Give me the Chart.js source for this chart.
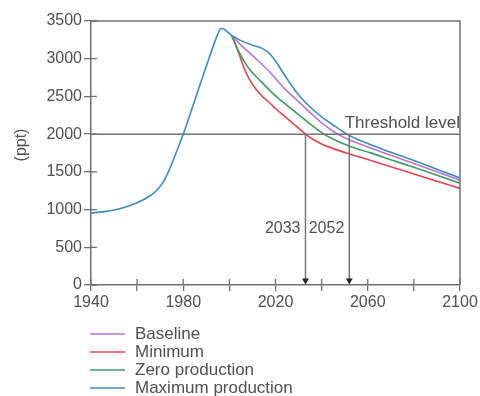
<!DOCTYPE html>
<html>
<head>
<meta charset="utf-8">
<script src="https://cdn.jsdelivr.net/npm/chart.js@4/dist/chart.umd.min.js"></script>
<style>
  html, body { margin: 0; padding: 0; background: #fff; }
  #wrap { width: 480px; height: 396px; position: relative; }
</style>
</head>
<body>
<div id="wrap"><canvas id="c"></canvas></div>
<script>
// Historical concentration (shared by all scenarios)
const historyYears  = [1940, 1945, 1950, 1955, 1960, 1965, 1968, 1971, 1974, 1977, 1980, 1985, 1990, 1994, 1996, 1997, 1999, 2001];
const historyValues = [955, 970, 995, 1035, 1090, 1170, 1240, 1350, 1530, 1760, 2000, 2450, 2900, 3250, 3390, 3400, 3360, 3310];

// Scenario projections
const baselineYears  = [2001, 2005, 2011, 2017, 2024, 2029, 2033, 2040, 2047, 2052, 2061, 2070, 2080, 2090, 2100];
const baselineValues = [3310, 3180, 3015, 2840, 2600, 2460, 2345, 2150, 2000, 1925, 1820, 1720, 1610, 1500, 1390];

const minimumYears  = [2001, 2004, 2007, 2010, 2014, 2018, 2020, 2025, 2030, 2033, 2036, 2040, 2045, 2050, 2061, 2070, 2080, 2090, 2100];
const minimumValues = [3310, 3080, 2830, 2660, 2510, 2400, 2340, 2210, 2080, 2000, 1935, 1870, 1808, 1758, 1655, 1568, 1472, 1376, 1280];

const zeroYears  = [2001, 2004, 2008, 2014, 2021, 2028, 2034, 2041, 2046, 2050, 2055, 2061, 2070, 2080, 2090, 2100];
const zeroValues = [3310, 3100, 2890, 2690, 2480, 2310, 2160, 2000, 1920, 1865, 1810, 1755, 1660, 1560, 1455, 1350];

const maximumYears  = [2001, 2005, 2010, 2014, 2017, 2020, 2024, 2029, 2034, 2040, 2046, 2051, 2056, 2061, 2070, 2080, 2090, 2100];
const maximumValues = [3310, 3240, 3180, 3140, 3080, 2970, 2780, 2560, 2390, 2230, 2100, 2000, 1925, 1862, 1760, 1650, 1535, 1420];

// Threshold and the years each marked scenario falls below it
const thresholdLevel = 2000;
const crossingYears  = [2033, 2052];
const crossingLabelLevel = 745;

// Axis ticks
const xTickYears = [1940, 1960, 1980, 2000, 2020, 2040, 2060, 2080, 2100];
const xLabelYears = [1940, 1980, 2020, 2060, 2100];
const yTickValues = [0, 500, 1000, 1500, 2000, 2500, 3000, 3500];

const TEXT = '#505050';
const AXIS = '#707070';
const FONT = '"Liberation Sans", Arial, sans-serif';

const pts = (xs, ys) => xs.map((x, i) => ({ x, y: ys[i] }));

function seriesSet(label, xs, ys, color, legend) {
  return {
    label, data: pts(xs, ys), borderColor: color, backgroundColor: color,
    borderWidth: 1.6, pointRadius: 0, cubicInterpolationMode: 'monotone',
    inLegend: legend, order: 2
  };
}

const datasets = [
  seriesSet('History', historyYears, historyValues, '#3f8db4', false),
  seriesSet('Maximum production', maximumYears, maximumValues, '#3f8db4', true),
  seriesSet('Baseline', baselineYears, baselineValues, '#b777cf', true),
  seriesSet('Zero production', zeroYears, zeroValues, '#3f9a62', true),
  seriesSet('Minimum', minimumYears, minimumValues, '#e0444f', true),
  {
    label: 'Threshold level',
    data: [{ x: 1940, y: thresholdLevel }, { x: 2100, y: thresholdLevel }],
    borderColor: AXIS, borderWidth: 1.5, pointRadius: 0, inLegend: false, order: 1
  }
];
crossingYears.forEach(yr => {
  datasets.push({
    label: String(yr),
    data: [{ x: yr, y: thresholdLevel }, { x: yr, y: 60 }],
    borderColor: AXIS, borderWidth: 1.4,
    pointRadius: [0, 4], pointStyle: 'triangle', pointRotation: 180,
    pointBackgroundColor: '#222', pointBorderColor: '#222', pointBorderWidth: 0,
    inLegend: false, order: 1
  });
});

const legendOrder = ['Baseline', 'Minimum', 'Zero production', 'Maximum production'];

const decorations = {
  id: 'decorations',
  afterDraw(chart) {
    const { ctx, chartArea: a, scales: { x, y } } = chart;
    ctx.save();
    // frame: top and right edges
    ctx.strokeStyle = AXIS;
    ctx.lineWidth = 1.5;
    ctx.beginPath();
    ctx.moveTo(a.left, a.top); ctx.lineTo(a.right, a.top); ctx.lineTo(a.right, a.bottom);
    ctx.stroke();
    // inner halves of tick marks
    ctx.lineWidth = 1.3;
    ctx.beginPath();
    xTickYears.forEach(v => {
      const px = x.getPixelForValue(v);
      ctx.moveTo(px, a.bottom); ctx.lineTo(px, a.bottom - 6);
    });
    yTickValues.forEach(v => {
      const py = y.getPixelForValue(v);
      ctx.moveTo(a.left, py); ctx.lineTo(a.left + 6, py);
    });
    ctx.stroke();

    // annotations
    ctx.fillStyle = TEXT;
    ctx.font = '17px ' + FONT;
    ctx.textAlign = 'right';
    ctx.textBaseline = 'alphabetic';
    ctx.fillText('Threshold level', a.right, y.getPixelForValue(thresholdLevel) - 6);
    ctx.font = '16px ' + FONT;
    ctx.textBaseline = 'middle';
    crossingYears.forEach(yr => {
      ctx.fillText(String(yr), x.getPixelForValue(yr) - 5, y.getPixelForValue(crossingLabelLevel));
    });

    // axis title
    ctx.save();
    ctx.translate(22, 145);
    ctx.rotate(-Math.PI / 2);
    ctx.textAlign = 'center';
    ctx.font = '16px ' + FONT;
    ctx.fillText('(ppt)', 0, 0);
    ctx.restore();

    // legend
    ctx.font = '17px ' + FONT;
    ctx.textAlign = 'left';
    ctx.textBaseline = 'middle';
    legendOrder.forEach((name, i) => {
      const ds = chart.data.datasets.find(d => d.label === name);
      const ly = 334 + i * 18;
      ctx.strokeStyle = ds.borderColor;
      ctx.lineWidth = 1.6;
      ctx.beginPath();
      ctx.moveTo(90, ly); ctx.lineTo(125, ly);
      ctx.stroke();
      ctx.fillStyle = TEXT;
      ctx.fillText(name, 135, ly);
    });
    ctx.restore();
  }
};

new Chart(document.getElementById('c'), {
  type: 'line',
  data: { datasets },
  options: {
    responsive: true,
    maintainAspectRatio: false,
    animation: false,
    layout: { padding: { left: 0, right: 20, top: 21, bottom: 0 } },
    plugins: { legend: { display: false }, tooltip: { enabled: false } },
    scales: {
      x: {
        type: 'linear', min: 1940, max: 2100,
        afterFit: s => { s.height = 111; },
        afterBuildTicks: s => { s.ticks = xTickYears.map(v => ({ value: v })); },
        ticks: {
          autoSkip: false, maxRotation: 0, padding: 2,
          color: TEXT, font: { family: FONT, size: 16 },
          callback: v => xLabelYears.includes(v) ? String(v) : ''
        },
        grid: { drawOnChartArea: false, tickLength: 6, color: AXIS, lineWidth: 1.3 },
        border: { color: AXIS, width: 1.5 }
      },
      y: {
        type: 'linear', min: 0, max: 3500,
        afterFit: s => { s.width = 91; },
        afterBuildTicks: s => { s.ticks = yTickValues.map(v => ({ value: v })); },
        ticks: {
          padding: 2, color: TEXT, font: { family: FONT, size: 16 },
          callback: v => String(v)
        },
        grid: { drawOnChartArea: false, tickLength: 7, color: AXIS, lineWidth: 1.3 },
        border: { color: AXIS, width: 1.5 }
      }
    }
  },
  plugins: [decorations]
});
</script>
</body>
</html>
